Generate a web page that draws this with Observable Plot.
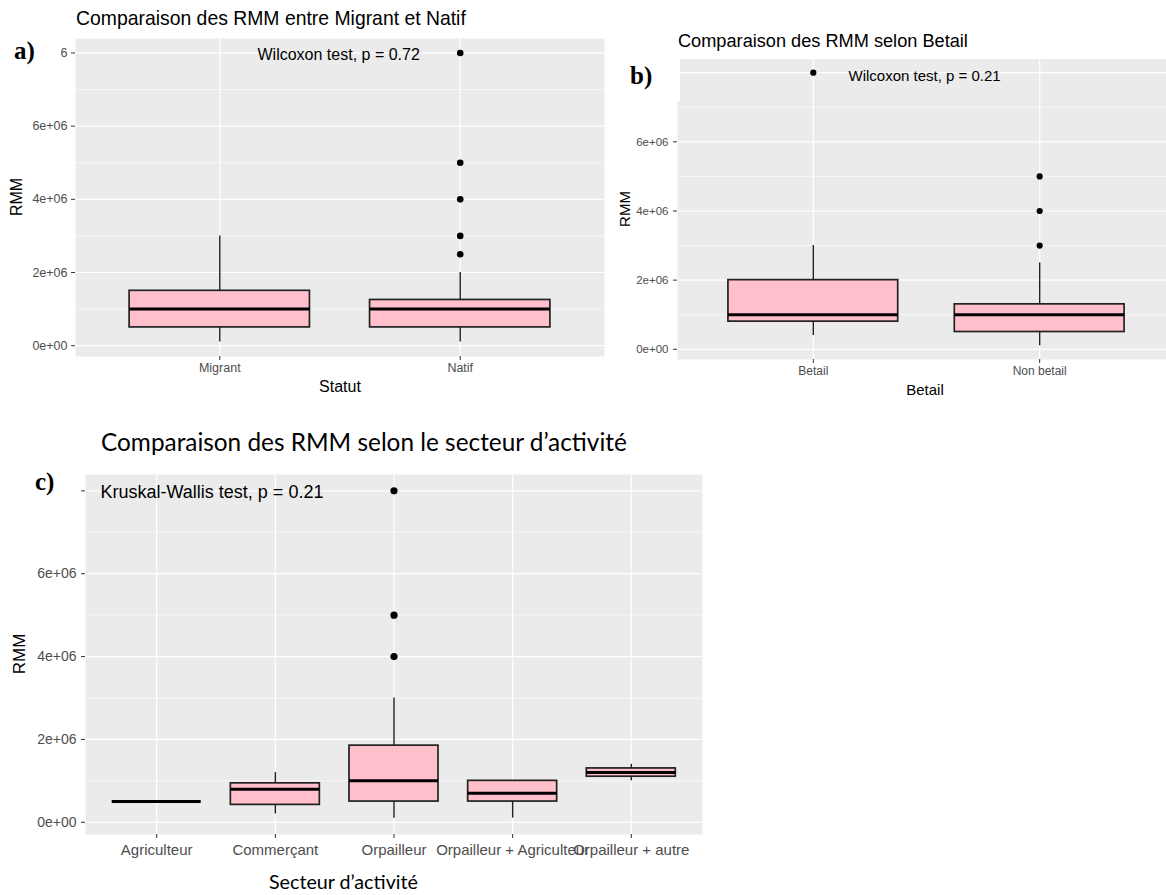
<!DOCTYPE html>
<html>
<head>
<meta charset="utf-8">
<script src="https://cdn.jsdelivr.net/npm/d3@7"></script>
<script src="https://cdn.jsdelivr.net/npm/@observablehq/plot@0.6"></script>
<style>
  html, body { margin: 0; padding: 0; background: #fff; overflow: hidden; }
  #page { position: relative; width: 1166px; height: 895px; overflow: hidden; background: #fff;
          font-family: "Liberation Sans", Arial, sans-serif; }
  .panel { position: absolute; }
  .panel svg { display: block; }
  .txt { position: absolute; white-space: nowrap; line-height: 1; color: #000; }
  .patch { position: absolute; background: #fff; }
</style>
</head>
<body>
<div id="page"></div>
<script>
// ---------- shared axis values ----------
const yTickValues = [0, 2e6, 4e6, 6e6, 8e6];
const yTickLabels = ["0e+00", "2e+06", "4e+06", "6e+06", "8e+06"];
const yMinor = [1e6, 3e6, 5e6, 7e6];

// ---------- a) Statut ----------
const statutCats = ["Migrant", "Natif"];
const statutLow  = [100000, 100000];
const statutQ1   = [500000, 500000];
const statutMed  = [1000000, 1000000];
const statutQ3   = [1500000, 1250000];
const statutHigh = [3000000, 2000000];
const statutOutCat = ["Natif", "Natif", "Natif", "Natif", "Natif"];
const statutOutVal = [2500000, 3000000, 4000000, 5000000, 8000000];

// ---------- b) Betail ----------
const betailCats = ["Betail", "Non betail"];
const betailLow  = [400000, 100000];
const betailQ1   = [800000, 500000];
const betailMed  = [1000000, 1000000];
const betailQ3   = [2000000, 1300000];
const betailHigh = [3000000, 2500000];
const betailOutCat = ["Betail", "Non betail", "Non betail", "Non betail"];
const betailOutVal = [8000000, 3000000, 4000000, 5000000];

// ---------- c) Secteur d'activité ----------
const secteurCats = ["Agriculteur", "Commerçant", "Orpailleur", "Orpailleur + Agriculteur", "Orpailleur + autre"];
const secteurLow  = [500000, 200000, 100000, 100000, 1000000];
const secteurQ1   = [500000, 420000, 500000, 500000, 1100000];
const secteurMed  = [500000, 800000, 1000000, 700000, 1200000];
const secteurQ3   = [500000, 940000, 1850000, 1000000, 1300000];
const secteurHigh = [500000, 1200000, 3000000, 1000000, 1400000];
const secteurOutCat = ["Orpailleur", "Orpailleur", "Orpailleur"];
const secteurOutVal = [4000000, 5000000, 8000000];

const page = document.getElementById("page");

function boxPanel(o) {
  const stats = o.cats.map((c, i) => ({c, lo: o.low[i], q1: o.q1[i], med: o.med[i], q3: o.q3[i], hi: o.high[i]}));
  const outs = o.outCat.map((c, i) => ({c, v: o.outVal[i]}));
  const [mn, mx] = d3.extent([...o.low, ...o.high, ...o.outVal]);
  const pad = (mx - mn) * 0.05;
  // panels b and c: the top tick label is covered in the original
  const labelled = o.hideTopLabel ? yTickValues.slice(0, -1) : yTickValues;
  const axisOpts = {tickSize: 4, tickPadding: o.ypad, stroke: "#333", fill: "#4D4D4D", fontSize: o.yFont, label: null};
  const marks = [
    Plot.frame({fill: "#EBEBEB"}),
    Plot.ruleY(yMinor, {stroke: "#ffffff", strokeWidth: 0.6}),
    Plot.ruleY(yTickValues, {stroke: "#ffffff", strokeWidth: 1.2}),
    Plot.gridX({stroke: "#ffffff", strokeOpacity: 1, strokeWidth: 1.2}),
    Plot.ruleX(stats, {x: "c", y1: "lo", y2: "hi", stroke: "#222", strokeWidth: 1.4}),
    Plot.barY(stats, {x: "c", y1: "q1", y2: "q3", fill: "#FFC0CB", stroke: "#222", strokeWidth: 1.7}),
    Plot.tickY(stats, {x: "c", y: "med", stroke: "#000", strokeWidth: 3}),
    Plot.dot(outs, {x: "c", y: "v", r: o.r, fill: "#000"}),
    Plot.axisY({...axisOpts, ticks: labelled, tickFormat: d => yTickLabels[yTickValues.indexOf(d)]}),
    Plot.axisX({tickSize: 4, tickPadding: o.xpad, stroke: "#333", fill: "#4D4D4D", fontSize: o.xFont, label: null}),
    Plot.text([o.annot], {frameAnchor: "top-left", textAnchor: "start", lineAnchor: "middle",
                          dx: o.adx, dy: o.ady, fontSize: o.aFont, fill: "#000"})
  ];
  if (o.topTickMark) {
    // tick mark only (no label) at the top major value
    marks.push(Plot.axisY({...axisOpts, ticks: yTickValues.slice(-1), tickFormat: () => "", text: null}));
  }
  return Plot.plot({
    width: o.width, height: o.height,
    marginLeft: o.ml, marginRight: o.mr, marginTop: o.mt, marginBottom: o.mb,
    style: "background: transparent; max-width: none; overflow: visible; font-family: 'Liberation Sans', Arial, sans-serif;",
    x: {type: "band", domain: o.cats, paddingInner: 0.25, paddingOuter: 0.225, round: false, label: null},
    y: {domain: [mn - pad, mx + pad], label: null},
    marks
  });
}

function addPanel(svg, left, top) {
  const d = document.createElement("div");
  d.className = "panel";
  d.style.left = left + "px";
  d.style.top = top + "px";
  d.appendChild(svg);
  page.appendChild(d);
  return svg;
}

addPanel(boxPanel({
  cats: statutCats, low: statutLow, q1: statutQ1, med: statutMed, q3: statutQ3, high: statutHigh,
  outCat: statutOutCat, outVal: statutOutVal,
  width: 620, height: 410, ml: 75, mr: 16, mt: 38, mb: 54,
  r: 3.3, yFont: 12.5, xFont: 12.5, ypad: 4, xpad: 3,
  annot: "Wilcoxon test, p = 0.72", adx: 182, ady: 16, aFont: 16
}), 0, 0);

addPanel(boxPanel({
  cats: betailCats, low: betailLow, q1: betailQ1, med: betailMed, q3: betailQ3, high: betailHigh,
  outCat: betailOutCat, outVal: betailOutVal, hideTopLabel: true,
  width: 575, height: 410, ml: 77, mr: 0, mt: 58.5, mb: 51,
  r: 3.1, yFont: 11.5, xFont: 12, ypad: 5, xpad: 3,
  annot: "Wilcoxon test, p = 0.21", adx: 171, ady: 17.5, aFont: 15
}), 600, 0);

addPanel(boxPanel({
  cats: secteurCats, low: secteurLow, q1: secteurQ1, med: secteurMed, q3: secteurQ3, high: secteurHigh,
  outCat: secteurOutCat, outVal: secteurOutVal, hideTopLabel: true, topTickMark: true,
  width: 720, height: 475, ml: 85, mr: 18, mt: 54, mb: 61,
  r: 3.6, yFont: 14, xFont: 15, ypad: 5, xpad: 6,
  annot: "Kruskal-Wallis test, p = 0.21", adx: 15, ady: 18, aFont: 18
}), 0, 420);

// ---------- overlays: white patches, titles, axis titles ----------
function patch(left, top, w, h) {
  const d = document.createElement("div");
  d.className = "patch";
  Object.assign(d.style, {left: left + "px", top: top + "px", width: w + "px", height: h + "px"});
  page.appendChild(d);
}
patch(0, 38, 61, 30);
patch(620, 50, 60, 51);

const ascent = {sans: 0.85, serif: 0.84, lato: 0.89};
const families = {
  sans: "'Liberation Sans', Arial, sans-serif",
  serif: "'Liberation Serif', 'Times New Roman', serif",
  lato: "Lato, 'Open Sans', sans-serif"
};
function label(text, o) {
  const d = document.createElement("div");
  d.className = "txt";
  d.textContent = text;
  d.style.fontFamily = families[o.fam || "sans"];
  d.style.fontWeight = o.weight || "normal";
  page.appendChild(d);
  let size = o.size;
  d.style.fontSize = size + "px";
  if (o.fitWidth) {
    const w = d.getBoundingClientRect().width;
    size = size * o.fitWidth / w;
    d.style.fontSize = size + "px";
  }
  if (o.rotate) {
    d.style.left = o.cx + "px";
    d.style.top = o.cy + "px";
    d.style.transform = "translate(-50%, -50%) rotate(-90deg)";
  } else {
    d.style.top = (o.baseline - ascent[o.fam || "sans"] * size) + "px";
    if (o.cx !== undefined) {
      d.style.left = o.cx + "px";
      d.style.transform = "translateX(-50%)";
    } else {
      d.style.left = o.left + "px";
    }
  }
}

label("Comparaison des RMM entre Migrant et Natif", {left: 76, baseline: 25, size: 19.5, fitWidth: 390});
label("Comparaison des RMM selon Betail", {left: 678, baseline: 47, size: 18, fitWidth: 290});
label("Comparaison des RMM selon le secteur d’activité", {left: 101, baseline: 452, size: 24, fam: "lato", fitWidth: 526});

label("a)", {left: 14, baseline: 59, size: 25, fam: "serif", weight: "bold"});
label("b)", {left: 630, baseline: 84, size: 25, fam: "serif", weight: "bold"});
label("c)", {left: 35, baseline: 490, size: 25, fam: "serif", weight: "bold"});

label("Statut", {cx: 340, baseline: 393, size: 16});
label("Betail", {cx: 925, baseline: 395, size: 15});
label("Secteur d’activité", {left: 269, baseline: 890, size: 19, fam: "lato", fitWidth: 149});

label("RMM", {rotate: true, cx: 17, cy: 197, size: 16});
label("RMM", {rotate: true, cx: 624, cy: 209, size: 15});
label("RMM", {rotate: true, cx: 19, cy: 654, size: 17});
</script>
</body>
</html>
